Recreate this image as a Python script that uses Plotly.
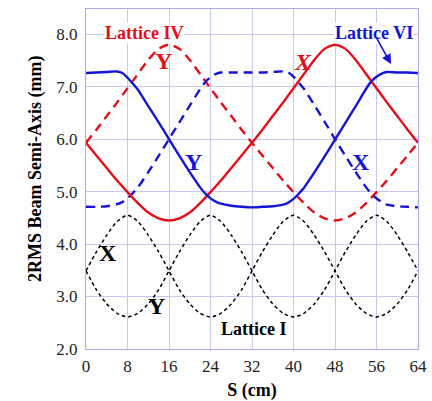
import plotly.graph_objects as go

s_ref = [0, 2, 4, 6, 8, 10, 12, 14, 16, 18, 20, 22, 24, 26, 28, 30, 32,
         34, 36, 38, 40, 42, 44, 46, 48, 50, 52, 54, 56, 58, 60, 62, 64]

# Lattice IV (red)
iv_x = [5.93, 5.69, 5.45, 5.21, 4.99, 4.78, 4.60, 4.49, 4.45, 4.49, 4.60, 4.78, 4.99,
        5.21, 5.45, 5.69, 5.93, 6.18, 6.44, 6.70, 6.97, 7.24, 7.51, 7.72, 7.80, 7.72,
        7.51, 7.24, 6.97, 6.70, 6.44, 6.18, 5.93]
iv_y = [5.93, 6.18, 6.44, 6.70, 6.97, 7.24, 7.51, 7.72, 7.80, 7.72, 7.51, 7.24, 6.97,
        6.70, 6.44, 6.18, 5.93, 5.69, 5.45, 5.21, 4.99, 4.78, 4.60, 4.49, 4.45, 4.49,
        4.60, 4.78, 4.99, 5.21, 5.45, 5.69, 5.93]

# Lattice VI (blue)
s_vi = [0, 2, 4, 6, 7, 8, 9, 10, 12, 14, 16, 18, 20, 22, 23, 24, 25, 26, 28, 30, 32,
        34, 36, 38, 39, 40, 41, 42, 44, 46, 48, 50, 52, 54, 55, 56, 57, 58, 60, 62, 64]
vi_y = [7.26, 7.27, 7.28, 7.29, 7.26, 7.17, 7.06, 6.94, 6.63, 6.32, 6.00, 5.68, 5.37,
        5.08, 4.96, 4.87, 4.81, 4.77, 4.73, 4.71, 4.70, 4.71, 4.72, 4.75, 4.79, 4.86,
        4.96, 5.07, 5.36, 5.67, 5.99, 6.31, 6.63, 6.96, 7.10, 7.19, 7.25, 7.28, 7.27,
        7.27, 7.26]
vi_x = [4.71, 4.71, 4.72, 4.76, 4.80, 4.87, 4.97, 5.08, 5.37, 5.68, 6.00, 6.32, 6.64,
        6.95, 7.09, 7.18, 7.24, 7.27, 7.27, 7.27, 7.27, 7.27, 7.28, 7.29, 7.27, 7.19,
        7.08, 6.96, 6.65, 6.33, 6.00, 5.68, 5.37, 5.08, 4.96, 4.87, 4.80, 4.75, 4.72,
        4.71, 4.70]

# Lattice I (black)
i_x = [3.49, 3.85, 4.17, 4.43, 4.55, 4.43, 4.17, 3.85, 3.49, 3.13, 2.86, 2.68, 2.61,
       2.68, 2.86, 3.13, 3.49, 3.85, 4.17, 4.43, 4.55, 4.43, 4.17, 3.85, 3.49, 3.13,
       2.86, 2.68, 2.61, 2.68, 2.86, 3.13, 3.49]
i_y = [3.49, 3.13, 2.86, 2.68, 2.61, 2.68, 2.86, 3.13, 3.49, 3.85, 4.17, 4.43, 4.55,
       4.43, 4.17, 3.85, 3.49, 3.13, 2.86, 2.68, 2.61, 2.68, 2.86, 3.13, 3.49, 3.85,
       4.17, 4.43, 4.55, 4.43, 4.17, 3.85, 3.49]

x_ticks = [0, 8, 16, 24, 32, 40, 48, 56, 64]
y_ticks = [2.0, 3.0, 4.0, 5.0, 6.0, 7.0, 8.0]

RED = "#e80c18"
BLUE = "#1414d8"
SERIF = "Liberation Serif, Times New Roman, serif"

fig = go.Figure()
sm = 0.7
fig.add_trace(go.Scatter(x=s_ref, y=i_x, mode="lines",
                         line=dict(color="black", width=1.5, dash="3.5px,3px", shape="spline", smoothing=sm)))
fig.add_trace(go.Scatter(x=s_ref, y=i_y, mode="lines",
                         line=dict(color="black", width=1.5, dash="3.5px,3px", shape="spline", smoothing=sm)))
fig.add_trace(go.Scatter(x=s_ref, y=iv_y, mode="lines",
                         line=dict(color=RED, width=2.4, dash="9px,6px", shape="spline", smoothing=sm)))
fig.add_trace(go.Scatter(x=s_vi, y=vi_x, mode="lines",
                         line=dict(color=BLUE, width=2.4, dash="9px,6px", shape="spline", smoothing=sm)))
fig.add_trace(go.Scatter(x=s_ref, y=iv_x, mode="lines",
                         line=dict(color=RED, width=2.4, shape="spline", smoothing=sm)))
fig.add_trace(go.Scatter(x=s_vi, y=vi_y, mode="lines",
                         line=dict(color=BLUE, width=2.4, shape="spline", smoothing=sm)))

ann = [
    dict(x=11.25, y=8.03, text="<b>Lattice IV</b>", font=dict(color=RED, size=18), bgcolor="white"),
    dict(x=55.6, y=8.03, text="<b>Lattice VI</b>", font=dict(color=BLUE, size=18), bgcolor="white"),
    dict(x=32.2, y=2.39, text="<b>Lattice I</b>", font=dict(color="black", size=18)),
    dict(x=15.0, y=7.49, text="<b>Y</b>", font=dict(color=RED, size=24)),
    dict(x=41.9, y=7.47, text="<b><i>X</i></b>", font=dict(color=RED, size=24)),
    dict(x=20.75, y=5.56, text="<b>Y</b>", font=dict(color=BLUE, size=24)),
    dict(x=53.1, y=5.56, text="<b>X</b>", font=dict(color=BLUE, size=24)),
    dict(x=4.2, y=3.83, text="<b>X</b>", font=dict(color="black", size=24)),
    dict(x=13.6, y=2.82, text="<b>Y</b>", font=dict(color="black", size=24)),
]
annotations = []
for a in ann:
    a.update(xref="x", yref="y", showarrow=False, borderpad=0)
    a["font"]["family"] = SERIF
    annotations.append(a)
annotations.append(dict(x=58.8, y=7.43, xref="x", yref="y", text="", showarrow=True,
                        ax=-15, ay=-27, arrowhead=2, arrowsize=1.2, arrowwidth=1.6,
                        arrowcolor=BLUE))
annotations.append(dict(x=-0.188, y=0.53, xref="paper", yref="paper", text="<b>2RMS Beam Semi-Axis (mm)</b>",
                        textangle=-90, showarrow=False, font=dict(family=SERIF, size=18, color="black")))

fig.update_layout(
    width=432, height=401,
    margin=dict(l=86, r=5, t=9, b=50),
    paper_bgcolor="white", plot_bgcolor="white",
    showlegend=False,
    annotations=annotations,
    font=dict(family=SERIF, color="black"),
    xaxis=dict(range=[0, 64], tickvals=x_ticks, ticktext=[str(v) for v in x_ticks],
               showgrid=True, gridcolor="#c8c8f4", gridwidth=1, zeroline=False,
               showline=True, linecolor="#a8a8f0", linewidth=1.2, mirror=True,
               ticks="", ticklabeloverflow="allow", ticklabelstandoff=1,
               tickfont=dict(size=17, family=SERIF, color="#222"),
               title=dict(text="<b>S (cm)</b>", font=dict(size=18, family=SERIF), standoff=8)),
    yaxis=dict(range=[2, 8.48], tickvals=y_ticks, ticktext=["%.1f" % v for v in y_ticks],
               showgrid=True, gridcolor="#c8c8f4", gridwidth=1, zeroline=False,
               showline=True, linecolor="#a8a8f0", linewidth=1.2, mirror=True,
               ticks="", tickfont=dict(size=17, family=SERIF, color="#222"), ticklabelstandoff=4),
)

fig.write_html("out.html", config={"displayModeBar": False},
               post_script="document.body.style.margin='0';document.body.style.overflow='hidden';")
